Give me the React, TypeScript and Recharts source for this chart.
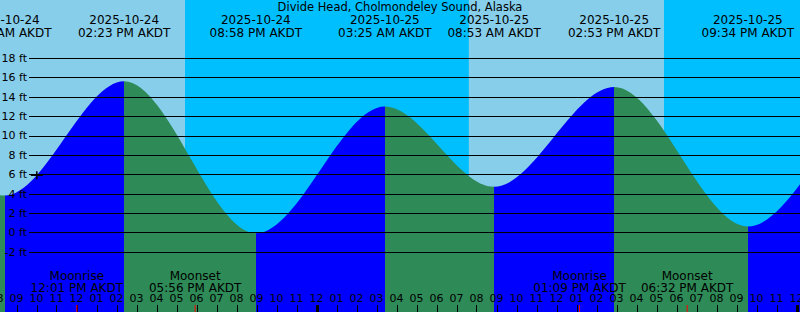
import React from "react";
import {
  ComposedChart,
  Area,
  XAxis,
  YAxis,
  ReferenceArea,
  ReferenceLine,
  ReferenceDot,
} from "recharts";

const W = 800;
const H = 312;
const FONT = "DejaVu Sans";
const FS = 12;
const FS_SMALL = 11;

// time axis: minutes since 2025-10-24 00:00 AKDT
const X_MIN = 490.5;
const X_MAX = 2890.5;
const Y_MIN = -8.23;
const Y_MAX = 24.0;

// tide extremes (high / low)
const tideMinutes = [-260, 120, 505, 863, 1258, 1645, 1973, 2333, 2734, 3135, 3520];
const tideFeet = [1.0, 13.2, 3.8, 15.6, -0.1, 13.0, 4.7, 15.0, 0.6, 13.5, 2.0];
const tideDates = [
  "2025-10-23",
  "2025-10-24",
  "2025-10-24",
  "2025-10-24",
  "2025-10-24",
  "2025-10-25",
  "2025-10-25",
  "2025-10-25",
  "2025-10-25",
  "2025-10-26",
  "2025-10-26",
];
const tideClock = [
  "07:40 PM AKDT",
  "02:00 AM AKDT",
  "08:25 AM AKDT",
  "02:23 PM AKDT",
  "08:58 PM AKDT",
  "03:25 AM AKDT",
  "08:53 AM AKDT",
  "02:53 PM AKDT",
  "09:34 PM AKDT",
  "04:15 AM AKDT",
  "10:40 AM AKDT",
];

// night bands (sunset -> sunrise)
const nightStart = [1045.5, 2482.5];
const nightEnd = [1897, 2890.5];

// moon events
const moonMinutes = [721, 1076, 2229, 2552];
const moonKind = ["Moonrise", "Moonset", "Moonrise", "Moonset"];
const moonClock = ["12:01 PM AKDT", "05:56 PM AKDT", "01:09 PM AKDT", "06:32 PM AKDT"];

// hour ticks
const hourTicks = [
  480, 540, 600, 660, 720, 780, 840, 900, 960, 1020, 1080, 1140, 1200, 1260, 1320, 1380,
  1440, 1500, 1560, 1620, 1680, 1740, 1800, 1860, 1920, 1980, 2040, 2100, 2160, 2220,
  2280, 2340, 2400, 2460, 2520, 2580, 2640, 2700, 2760, 2820, 2880,
];
const feetTicks = [-2, 0, 2, 4, 6, 8, 10, 12, 14, 16, 18];

// current-time marker
const nowMinute = 601;
const nowFeet = 5.9;

const TITLE = "Divide Head, Cholmondeley Sound, Alaska";

const DAY = "#87CEEB";
const NIGHT = "#00BFFF";
const RISE = "#0000FF";
const FALL = "#2E8B57";

const data = tideMinutes.map((t, i) => ({ t, ft: tideFeet[i] }));

const t0 = tideMinutes[0];
const tN = tideMinutes[tideMinutes.length - 1];
const stops: { off: number; color: string }[] = [];
for (let i = 0; i < tideMinutes.length - 1; i++) {
  const color = tideFeet[i + 1] > tideFeet[i] ? RISE : FALL;
  stops.push({ off: (tideMinutes[i] - t0) / (tN - t0), color });
  stops.push({ off: (tideMinutes[i + 1] - t0) / (tN - t0), color });
}

const hourLabel = (m: number) => {
  const h = Math.round(m / 60) % 12;
  const hh = h === 0 ? 12 : h;
  return hh < 10 ? "0" + hh : String(hh);
};

const HourMark = (props: any) => {
  const { viewBox, minute } = props;
  const x = Math.round(viewBox.x) + 0.5;
  const bottom = viewBox.y + viewBox.height;
  const thick = minute % 1440 === 0;
  return (
    <g>
      <line x1={x} x2={x} y1={bottom - 7} y2={bottom} stroke="#000" strokeWidth={thick ? 3 : 1} />
      <text x={viewBox.x} y={bottom - 10} textAnchor="middle" fontFamily={FONT} fontSize={FS_SMALL} fill="#000">
        {hourLabel(minute)}
      </text>
    </g>
  );
};

const FeetMark = (props: any) => {
  const { viewBox, value } = props;
  const y = viewBox.y;
  const yy = Math.round(y) + 0.5;
  return (
    <g>
      <line x1={29} x2={viewBox.x + viewBox.width} y1={yy} y2={yy} stroke="#000" strokeWidth={1} />
      <text x={27} y={y} dy="0.36em" textAnchor="end" fontFamily={FONT} fontSize={FS_SMALL} fill="#000">
        {value} ft
      </text>
    </g>
  );
};

const TideLabel = (props: any) => {
  const { viewBox, date, clock } = props;
  const x = viewBox.x;
  const top = viewBox.y;
  return (
    <g>
      <text x={x} y={top + 24} textAnchor="middle" fontFamily={FONT} fontSize={FS} fill="#000">
        {date}
      </text>
      <text x={x} y={top + 37} textAnchor="middle" fontFamily={FONT} fontSize={FS} fill="#000">
        {clock}
      </text>
    </g>
  );
};

const TitleLabel = (props: any) => {
  const { viewBox } = props;
  return (
    <text x={viewBox.x} y={viewBox.y + 11} textAnchor="middle" fontFamily={FONT} fontSize={11.5} fill="#000">
      {TITLE}
    </text>
  );
};

const MoonLabel = (props: any) => {
  const { viewBox, kind, clock } = props;
  const x = viewBox.x;
  const bottom = viewBox.y + viewBox.height;
  return (
    <g>
      <line x1={x} x2={x} y1={bottom - 7} y2={bottom} stroke="#FF0000" strokeWidth={1} />
      <text x={x} y={bottom - 32} textAnchor="middle" fontFamily={FONT} fontSize={FS} fill="#000">
        {kind}
      </text>
      <text x={x} y={bottom - 20} textAnchor="middle" fontFamily={FONT} fontSize={FS} fill="#000">
        {clock}
      </text>
    </g>
  );
};

const NowMark = (props: any) => {
  const { cx, cy } = props;
  return (
    <g>
      <line x1={cx - 6} x2={cx + 6} y1={cy} y2={cy} stroke="#000" strokeWidth={1.5} />
      <line x1={cx} x2={cx} y1={cy - 4} y2={cy + 4} stroke="#000" strokeWidth={1.5} />
    </g>
  );
};

export default function App() {
  return (
    <div style={{ position: "absolute", left: 0, top: 0, width: W, height: H, fontFamily: FONT }}>
      <ComposedChart width={W} height={H} data={data} margin={{ top: 0, right: 0, bottom: 0, left: 0 }}>
        <defs>
          <linearGradient id="tideFill" x1="0" y1="0" x2="1" y2="0">
            {stops.map((s, i) => (
              <stop key={i} offset={s.off} stopColor={s.color} />
            ))}
          </linearGradient>
        </defs>
        <XAxis dataKey="t" type="number" domain={[X_MIN, X_MAX]} allowDataOverflow hide />
        <YAxis type="number" domain={[Y_MIN, Y_MAX]} allowDataOverflow hide />
        <ReferenceArea x1={X_MIN} x2={X_MAX} fill={DAY} fillOpacity={1} stroke="none" ifOverflow="hidden" />
        {nightStart.map((s, i) => (
          <ReferenceArea
            key={"n" + i}
            x1={s}
            x2={nightEnd[i]}
            fill={NIGHT}
            fillOpacity={1}
            stroke="none"
            ifOverflow="hidden"
          />
        ))}
        <Area
          dataKey="ft"
          type="monotone"
          stroke="none"
          fill="url(#tideFill)"
          fillOpacity={1}
          baseValue={Y_MIN}
          dot={false}
          activeDot={false}
          isAnimationActive={false}
        />
        {feetTicks.map((v) => (
          <ReferenceLine key={"f" + v} y={v} stroke="none" label={<FeetMark value={v} />} />
        ))}
        {hourTicks.map((m) => (
          <ReferenceLine
            key={"h" + m}
            x={m}
            stroke="none"
            ifOverflow="visible"
            label={<HourMark minute={m} />}
          />
        ))}
        {tideMinutes.map((t, i) =>
          t >= X_MIN && t <= X_MAX ? (
            <ReferenceLine
              key={"t" + i}
              x={t}
              stroke="none"
              label={<TideLabel date={tideDates[i]} clock={tideClock[i]} />}
            />
          ) : null
        )}
        {moonMinutes.map((t, i) => (
          <ReferenceLine
            key={"m" + i}
            x={t}
            stroke="none"
            label={<MoonLabel kind={moonKind[i]} clock={moonClock[i]} />}
          />
        ))}
        <ReferenceDot x={nowMinute} y={nowFeet} r={0} shape={<NowMark />} />
        <ReferenceLine x={(X_MIN + X_MAX) / 2} stroke="none" label={<TitleLabel />} />
      </ComposedChart>
    </div>
  );
}
